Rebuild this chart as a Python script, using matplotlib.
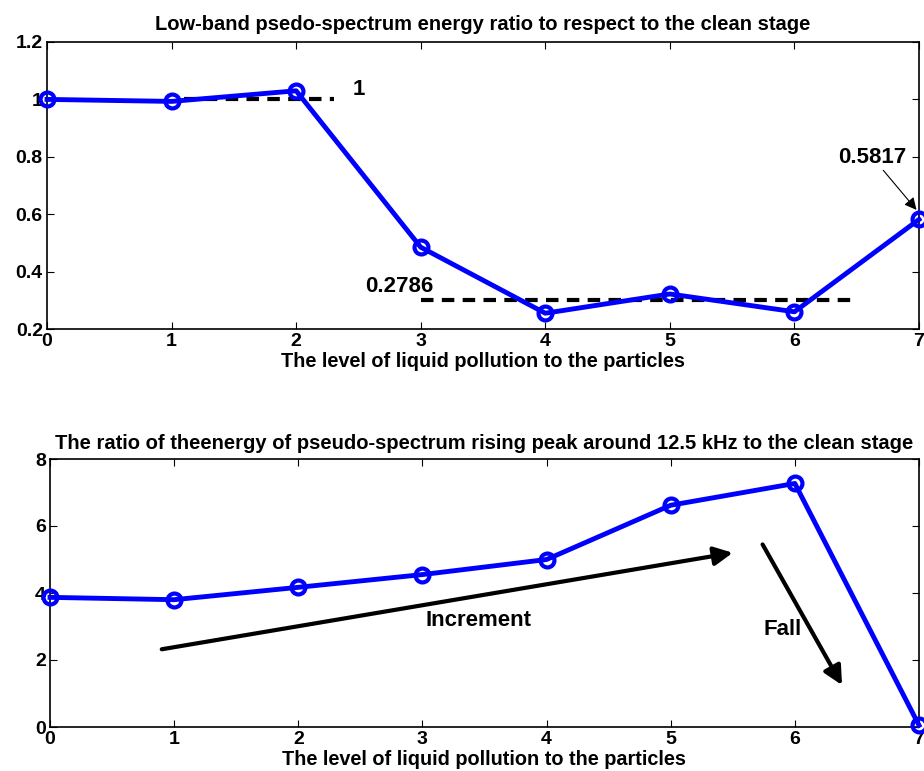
import numpy as np
import matplotlib
matplotlib.use('Agg')
import matplotlib.pyplot as plt

plt.rcParams['font.family'] = ['Liberation Sans', 'DejaVu Sans']
plt.rcParams['font.weight'] = 'bold'

# data
levels = [0, 1, 2, 3, 4, 5, 6, 7]
low_band = [1.0, 0.993, 1.03, 0.485, 0.255, 0.322, 0.26, 0.5817]
peak_ratio = [3.87, 3.80, 4.17, 4.55, 5.0, 6.62, 7.27, 0.05]

top_title = 'Low-band psedo-spectrum energy ratio to respect to the clean stage'
bot_title = 'The ratio of theenergy of pseudo-spectrum rising peak around 12.5 kHz to the clean stage'
xlab = 'The level of liquid pollution to the particles'

fig = plt.figure(figsize=(9.24, 7.71), dpi=100)
ax1 = fig.add_axes([47/924, 1 - 329/771, (919-47)/924, (329-42)/771])
ax2 = fig.add_axes([50/924, 1 - 727/771, (919-50)/924, (727-459)/771])


def style(ax):
    ax.tick_params(direction='in', top=True, right=True, labelsize=14, length=5, pad=3)
    for lab in ax.get_xticklabels() + ax.get_yticklabels():
        lab.set_fontweight('bold')
    for s in ax.spines.values():
        s.set_linewidth(1.2)
    ax.set_xlabel(xlab, fontsize=14.3, fontweight='bold', labelpad=1)


line_kw = dict(color='#0000ff', lw=3.5, marker='o', ms=10, mfc='none', mew=3, clip_on=False, zorder=5)

# top panel
ax1.plot(levels, low_band, **line_kw)
ax1.plot([1.1, 2.3], [1.0, 1.0], 'k--', lw=3, dashes=(3, 2), zorder=4)
ax1.plot([3.0, 6.5], [0.3, 0.3], 'k--', lw=3, dashes=(3, 2), zorder=4)
ax1.text(2.45, 1.015, '1', fontsize=16, fontweight='bold')
ax1.text(2.55, 0.33, '0.2786', fontsize=16, fontweight='bold')
ax1.annotate('0.5817', xy=(6.98, 0.615), xytext=(6.35, 0.78), fontsize=16, fontweight='bold',
             arrowprops=dict(arrowstyle='-|>', color='k', lw=0.8, mutation_scale=18, shrinkA=0, shrinkB=0))
ax1.set_xlim(0, 7)
ax1.set_ylim(0.2, 1.2)
ax1.set_yticks([0.2, 0.4, 0.6, 0.8, 1.0, 1.2])
ax1.set_yticklabels(['0.2', '0.4', '0.6', '0.8', '1', '1.2'])
ax1.set_title(top_title, fontsize=14.5, fontweight='bold', pad=9)
style(ax1)

# bottom panel
ax2.plot(levels, peak_ratio, **line_kw)
ax2.annotate('', xy=(5.5, 5.2), xytext=(0.9, 2.32),
             arrowprops=dict(arrowstyle='-|>', color='k', lw=3, mutation_scale=28, shrinkA=0, shrinkB=0))
ax2.annotate('', xy=(6.38, 1.25), xytext=(5.74, 5.45),
             arrowprops=dict(arrowstyle='-|>', color='k', lw=3, mutation_scale=28, shrinkA=0, shrinkB=0))
ax2.text(3.45, 3.0, 'Increment', fontsize=16, fontweight='bold', ha='center')
ax2.text(5.9, 2.75, 'Fall', fontsize=16, fontweight='bold', ha='center')
ax2.set_xlim(0, 7)
ax2.set_ylim(0, 8)
ax2.set_yticks([0, 2, 4, 6, 8])
ax2.set_title(bot_title, fontsize=14.5, fontweight='bold', pad=7)
style(ax2)

fig.savefig('out.png', dpi=100)
